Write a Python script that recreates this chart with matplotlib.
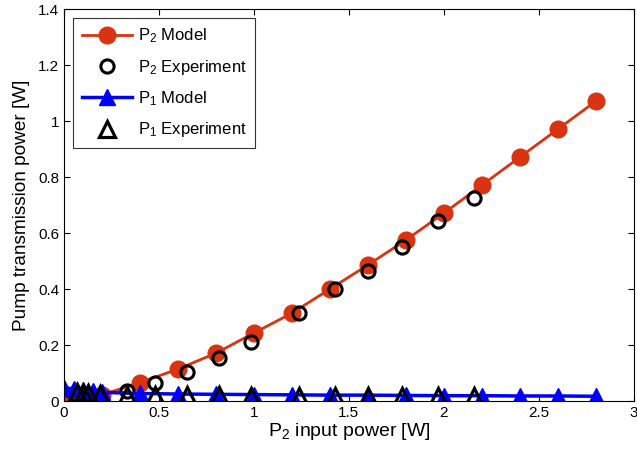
import matplotlib
matplotlib.use('Agg')
import matplotlib.pyplot as plt

plt.rcParams['font.family'] = ['Liberation Sans', 'DejaVu Sans']
plt.rcParams['mathtext.default'] = 'regular'

# model curves (P2 input power [W])
model_x = [0, 0.05, 0.1, 0.15, 0.2, 0.4, 0.6, 0.8, 1.0, 1.2, 1.4, 1.6, 1.8, 2.0, 2.2, 2.4, 2.6, 2.8]
p2_model = [0.0, 0.0, 0.005, 0.013, 0.022, 0.066, 0.114, 0.171, 0.243, 0.314, 0.4, 0.486, 0.575,
            0.671, 0.771, 0.871, 0.971, 1.071]
p1_model = [0.048, 0.043, 0.038, 0.034, 0.031, 0.027, 0.025, 0.024, 0.023, 0.022, 0.021, 0.021,
            0.02, 0.019, 0.019, 0.018, 0.018, 0.017]

# experiment
exp_x = [0.07, 0.1, 0.125, 0.19, 0.33, 0.48, 0.645, 0.815, 0.985, 1.235, 1.425, 1.6, 1.78, 1.97, 2.16]
p2_exp = [0.0, 0.005, 0.015, 0.015, 0.035, 0.064, 0.104, 0.155, 0.21, 0.315, 0.4, 0.465, 0.55, 0.643, 0.725]
p1_exp = [0.032, 0.03, 0.028, 0.024, 0.022, 0.02, 0.02, 0.02, 0.019, 0.019, 0.018, 0.018, 0.017, 0.017, 0.017]

red = '#D93310'

fig = plt.figure(figsize=(6.37, 4.54), dpi=100)
ax = fig.add_axes([0.1005, 0.1167, 0.8945, 0.8633])

ax.plot(model_x, p2_model, color=red, lw=2, marker='o', ms=12, mec=red, label='P$_2$ Model')
ax.plot(exp_x, p2_exp, ls='none', marker='o', ms=9.5, mfc='none', mec='black', mew=2.2,
        label='P$_2$ Experiment')
ax.plot(model_x, p1_model, color='#0000FF', lw=2.5, marker='^', ms=12, label='P$_1$ Model')
ax.plot(exp_x, p1_exp, ls='none', marker='^', ms=11, mfc='none', mec='black', mew=2.3,
        label='P$_1$ Experiment')

ax.set_xlim(0, 3)
ax.set_ylim(0, 1.4)
ax.set_xticks([0, 0.5, 1, 1.5, 2, 2.5, 3])
ax.set_xticklabels(['0', '0.5', '1', '1.5', '2', '2.5', '3'])
ax.set_yticks([0, 0.2, 0.4, 0.6, 0.8, 1.0, 1.2, 1.4])
ax.set_yticklabels(['0', '0.2', '0.4', '0.6', '0.8', '1', '1.2', '1.4'])
ax.tick_params(direction='in', top=True, right=True, labelsize=11, length=4)
ax.set_xlabel('P$_2$ input power [W]', fontsize=14, labelpad=1)
ax.set_ylabel('Pump transmission power [W]', fontsize=13.7, labelpad=6)
for s in ax.spines.values():
    s.set_linewidth(0.8)

leg = ax.legend(loc='upper left', fontsize=12, fancybox=False, edgecolor='black',
                bbox_to_anchor=(0.0, 1.0), borderaxespad=0.55, handlelength=3.0,
                handletextpad=0.4, labelspacing=0.75, borderpad=0.5)
leg.get_frame().set_linewidth(0.8)

fig.savefig('out.png', dpi=100)
